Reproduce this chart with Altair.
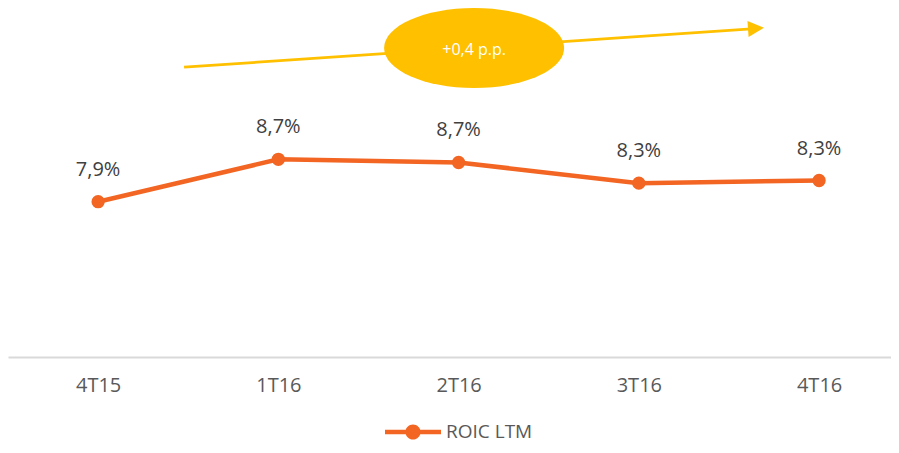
import json
import altair as alt
import pandas as pd

# ---- data ----
categories = ["4T15", "1T16", "2T16", "3T16", "4T16"]
roic = [7.93, 8.73, 8.67, 8.28, 8.33]
roic_labels = ["7,9%", "8,7%", "8,7%", "8,3%", "8,3%"]
series_name = "ROIC LTM"
delta_label = "+0,4 p.p."

# annotation anchors in data units (x = category index, y = value scale)
arrow_start = [0.477, 10.47]
arrow_end = [3.623, 11.19]
arrow_head = [3.650, 11.20]
bubble_center = [2.086, 10.83]

ORANGE = "#F26522"
YELLOW = "#FFC000"
LABEL_GREY = "#595959"
FONT = "Open Sans"

idx = list(range(len(categories)))
df = pd.DataFrame({"idx": idx, "v": roic, "lbl": roic_labels,
                   "s": [series_name] * len(categories)})
arrow_df = pd.DataFrame({"idx": [arrow_start[0]], "v": [arrow_start[1]],
                         "idx2": [arrow_end[0]], "v2": [arrow_end[1]]})
head_df = pd.DataFrame({"idx": [arrow_head[0]], "v": [arrow_head[1]]})
bubble_df = pd.DataFrame({"idx": [bubble_center[0]], "v": [bubble_center[1]],
                          "lbl": [delta_label]})

label_expr = json.dumps(categories) + "[datum.value]"

x_enc = alt.X("idx:Q",
              scale=alt.Scale(domain=[-0.5, 4.399], nice=False, zero=False),
              axis=alt.Axis(values=idx, labelExpr=label_expr, grid=False,
                            ticks=False, tickSize=0, domainColor="#D9D9D9",
                            domainWidth=2, labelFont=FONT, labelFontSize=20,
                            labelColor=LABEL_GREY, labelPadding=18, title=None,
                            labelFlush=False))
y_enc = alt.Y("v:Q", scale=alt.Scale(domain=[5, 11.585], nice=False, zero=False),
              axis=None)

ellipse_path = "M-1,0 A1,0.444 0 1,1 1,0 A1,0.444 0 1,1 -1,0 Z"
tri_path = "M-1,-1 L1,0 L-1,1 Z"
legend_path = ("M-1,-0.08 L-0.2,-0.08 L-0.2,0.08 L-1,0.08 Z "
               "M0.2,-0.08 L1,-0.08 L1,0.08 L0.2,0.08 Z "
               "M-0.27,0 A0.27,0.27 0 1,1 0.27,0 A0.27,0.27 0 1,1 -0.27,0 Z")

arrow = alt.Chart(arrow_df).mark_rule(color=YELLOW, strokeWidth=2.75).encode(
    x=x_enc, y=y_enc, x2="idx2:Q", y2="v2:Q")
head = alt.Chart(head_df).mark_point(shape=tri_path, filled=True, size=256,
                                     angle=356, color=YELLOW, opacity=1,
                                     strokeWidth=0).encode(x=x_enc, y=y_enc)
bubble = alt.Chart(bubble_df).mark_point(shape=ellipse_path, filled=True,
                                         size=32400, color=YELLOW, opacity=1,
                                         strokeWidth=0).encode(x=x_enc, y=y_enc)
bubble_txt = alt.Chart(bubble_df).mark_text(color="white", font=FONT, fontSize=16,
                                            baseline="middle", dy=2).encode(
    x=x_enc, y=y_enc, text="lbl:N")

line = alt.Chart(df).mark_line(color=ORANGE, strokeWidth=4.5).encode(x=x_enc, y=y_enc)
points = alt.Chart(df).mark_circle(size=177, opacity=1).encode(
    x=x_enc, y=y_enc,
    color=alt.Color("s:N", scale=alt.Scale(domain=[series_name], range=[ORANGE]),
                    legend=alt.Legend(title=None, orient="none", legendX=377,
                                      legendY=396, padding=0,
                                      symbolType=legend_path, symbolSize=3136,
                                      symbolStrokeWidth=0, symbolOpacity=1,
                                      symbolFillColor=ORANGE,
                                      labelFont=FONT, labelFontSize=19,
                                      labelColor=LABEL_GREY, labelOffset=5)))
labels = alt.Chart(df).mark_text(font=FONT, fontSize=20, color="#404040",
                                 baseline="middle", dy=-32).encode(
    x=x_enc, y=y_enc, text="lbl:N")

chart = alt.layer(arrow, head, bubble, bubble_txt, line, points, labels).properties(
    width=883, height=349,
    autosize=alt.AutoSizeParams(type="none"),
    padding={"left": 0, "top": 0, "right": 0, "bottom": 88},
    background="white",
).configure_view(stroke=None)

chart.save("out.html", embed_options={"renderer": "svg", "actions": False})
